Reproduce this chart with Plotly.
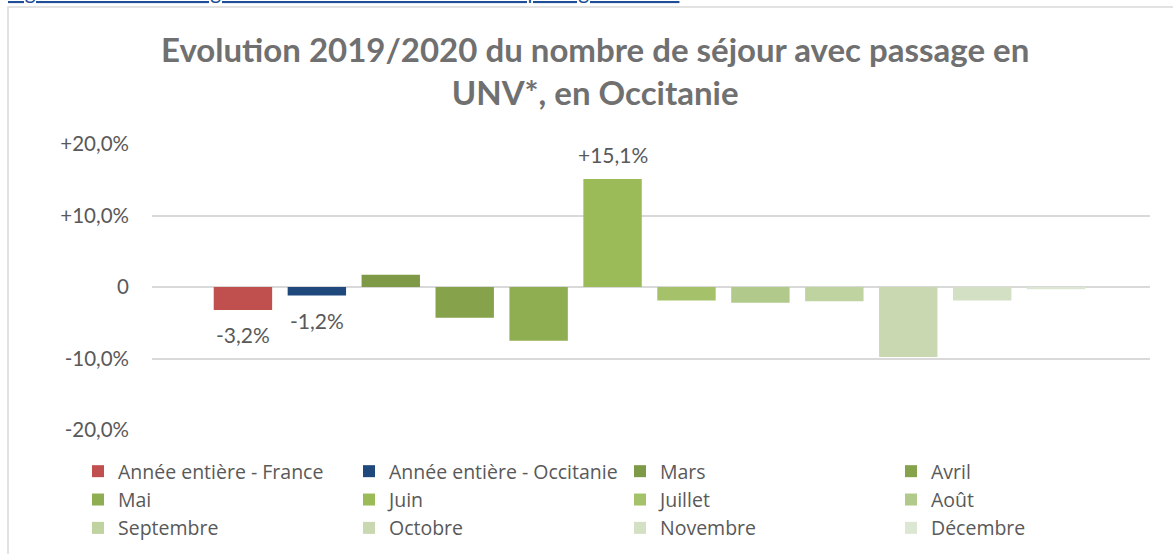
import plotly.graph_objects as go

categories = ["Année entière - France", "Année entière - Occitanie", "Mars", "Avril",
              "Mai", "Juin", "Juillet", "Août", "Septembre", "Octobre", "Novembre", "Décembre"]
values = [-3.2, -1.2, 1.7, -4.3, -7.5, 15.1, -1.9, -2.2, -2.0, -9.8, -1.9, -0.3]
labels = ["-3,2%", "-1,2%", "", "", "", "+15,1%", "", "", "", "", "", ""]
colors = ["#C0504D", "#1F497D", "#7E9A47", "#86A24B", "#8FAD51", "#9BBB59",
          "#A5C26A", "#B1C98B", "#BED39F", "#CAD8B1", "#D4E0C3", "#DDE6D2"]
tick_vals = [20, 10, 0, -10, -20]
tick_text = ["+20,0%", "+10,0%", "0", "-10,0%", "-20,0%"]

FONT = "Lato, 'Open Sans', sans-serif"
LFONT = "'Open Sans', Lato, sans-serif"
GREY = "#595959"

fig = go.Figure()
for i, (c, v, col) in enumerate(zip(categories, values, colors)):
    fig.add_trace(go.Bar(
        x=[i], y=[v], name=c, width=0.79,
        marker=dict(color=col, line=dict(width=0)),
        hoverinfo="skip",
    ))

# plot area pixel mapping
L, R, T, B = 152, 23, 144, 124
W, H = 1173, 554
pw, ph = W - L - R, H - T - B

def px_x(p):
    return (p - L) / pw

def px_y(p):
    return (H - B - p) / ph

annotations = []
for i, (v, t) in enumerate(zip(values, labels)):
    if t:
        annotations.append(dict(
            x=i, y=v, xref="x", yref="y", text=t, showarrow=False,
            yshift=25 if v > 0 else -25, xanchor="center", yanchor="middle",
            font=dict(family=FONT, size=21, color=GREY),
        ))

annotations.append(dict(
    text="<b>Evolution 2019/2020 du nombre de séjour avec passage en<br>UNV*, en Occitanie</b>",
    xref="paper", yref="paper", x=px_x(595), y=px_y(70), xanchor="center", yanchor="middle",
    showarrow=False, align="center",
    font=dict(family=FONT, size=33, color="#707070"),
))
annotations.append(dict(
    text="<u>Figure 3 : Evolution régionale 2019/2020 du nombre de passage en UNV</u>",
    xref="paper", yref="paper", x=px_x(6), y=px_y(5), xanchor="left", yanchor="bottom",
    showarrow=False, font=dict(family=FONT, size=21, color="#1F4E99"),
))

fig.update_layout(
    width=W, height=H,
    margin=dict(l=L, r=R, t=T, b=B, autoexpand=False),
    paper_bgcolor="white", plot_bgcolor="white",
    barmode="overlay",
    showlegend=True,
    xaxis=dict(range=[-1.23, 12.27], showticklabels=False, showgrid=False,
               zeroline=False, showline=False, fixedrange=True),
    yaxis=dict(range=[-20, 20], tickvals=tick_vals, ticktext=tick_text,
               showgrid=True, gridcolor="#D9D9D9", gridwidth=2,
               zeroline=True, zerolinecolor="#D9D9D9", zerolinewidth=2,
               showline=False, ticks="", ticklabelstandoff=22, fixedrange=True,
               tickfont=dict(family=FONT, size=20.5, color=GREY)),
    legend=dict(
        orientation="h", x=px_x(78), xanchor="left", y=px_y(452), yanchor="top",
        entrywidth=226, entrywidthmode="pixels", traceorder="normal",
        font=dict(family=LFONT, size=19.5, color=GREY),
        itemclick=False, itemdoubleclick=False, tracegroupgap=0,
        bgcolor="rgba(0,0,0,0)",
    ),
    shapes=[dict(type="rect", xref="paper", yref="paper",
                 x0=px_x(8), x1=px_x(1190), y0=px_y(570), y1=px_y(7),
                 line=dict(color="#D9D9D9", width=1.5), layer="below")],
    annotations=annotations,
)

fig.write_html("out.html", config={"displayModeBar": False},
               post_script="document.body.style.margin='0';document.body.style.overflow='hidden';")
